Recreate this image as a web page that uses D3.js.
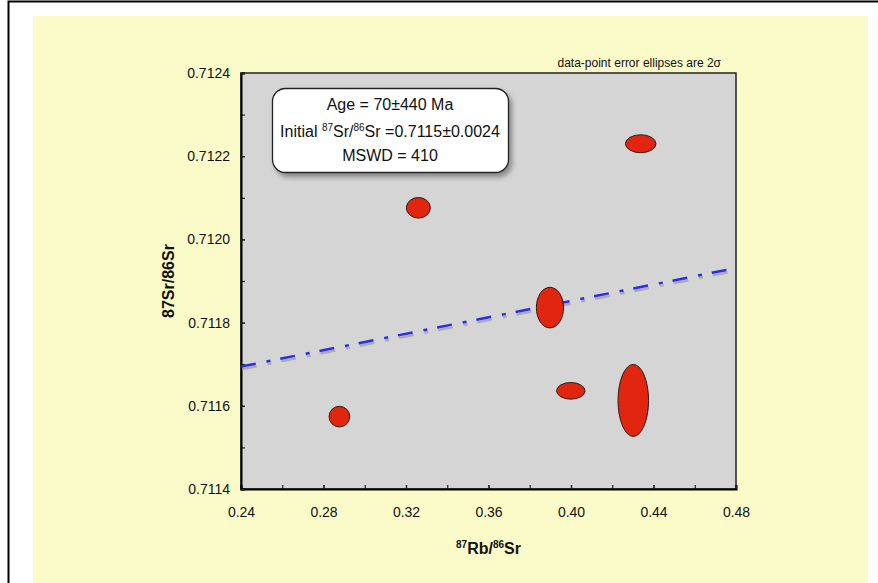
<!DOCTYPE html>
<html>
<head>
<meta charset="utf-8">
<title>Rb-Sr isochron</title>
<script src="https://d3js.org/d3.v7.min.js"></script>
<style>
  body { margin: 0; background: #fff; }
  text { font-family: "Liberation Sans", Arial, Helvetica, sans-serif; fill: #111; }
  .axis-title { font-size: 16px; font-weight: bold; }
  .box-text { font-size: 16px; }
  .note { font-size: 12px; }
</style>
</head>
<body>
<script>
  // measured points (87Rb/86Sr, 87Sr/86Sr) and 2-sigma errors
  const rbSr  = [0.2877, 0.3260, 0.3898, 0.3999, 0.4302, 0.4338];
  const srSr  = [0.711574, 0.712076, 0.711836, 0.711636, 0.711613, 0.712230];
  const errRb = [0.0050, 0.0058, 0.0066, 0.0069, 0.0074, 0.0074];
  const errSr = [0.0000248, 0.0000248, 0.0000488, 0.0000200, 0.0000865, 0.0000216];

  // regression (isochron) line
  const intercept = 0.711457;
  const slope = 0.000988;

  const xTicks = [0.24, 0.28, 0.32, 0.36, 0.40, 0.44, 0.48];
  const yTicks = [0.7114, 0.7116, 0.7118, 0.7120, 0.7122, 0.7124];

  const width = 878, height = 583;
  const plot = {left: 241, right: 736, top: 73, bottom: 489};

  let svg = d3.select('body').append('svg').attr('width', width).attr('height', height);

  let defs = svg.append('defs');
  defs.append('filter').attr('id', 'boxShadow').attr('x', '-10%').attr('y', '-10%').attr('width', '130%').attr('height', '140%')
      .append('feDropShadow').attr('dx', 3).attr('dy', 4).attr('stdDeviation', 2.5)
      .attr('flood-color', '#555').attr('flood-opacity', 0.6);
  defs.append('clipPath').attr('id', 'plotClip').append('rect')
      .attr('x', plot.left).attr('y', plot.top)
      .attr('width', plot.right - plot.left).attr('height', plot.bottom - plot.top);

  // page frame and yellow background
  svg.append('rect').attr('x', 8.5).attr('y', 1.5).attr('width', 900).attr('height', 700)
     .attr('fill', 'none').attr('stroke', '#000').attr('stroke-width', 2);
  svg.append('rect').attr('x', 33).attr('y', 16).attr('width', 835).attr('height', 600).attr('fill', '#fbfbc9');

  let x = d3.scaleLinear().domain([0.24, 0.48]).range([plot.left, plot.right]);
  let y = d3.scaleLinear().domain([0.7114, 0.7124]).range([plot.bottom, plot.top]);

  // plot area
  svg.append('rect').attr('x', plot.left).attr('y', plot.top)
     .attr('width', plot.right - plot.left).attr('height', plot.bottom - plot.top)
     .attr('fill', '#d5d5d5').attr('stroke', '#222').attr('stroke-width', 1.5);

  // axes: minor ticks (no labels) then labelled majors, all pointing inward
  svg.append('g').attr('transform', `translate(0,${plot.bottom})`)
     .call(d3.axisBottom(x).ticks(12).tickSize(-4).tickFormat(''))
     .call(g => g.select('.domain').remove());
  svg.append('g').attr('class', 'xaxis').attr('transform', `translate(0,${plot.bottom})`)
     .call(d3.axisBottom(x).tickValues(xTicks).tickSize(-4).tickPadding(18).tickFormat(d3.format('.2f')))
     .call(g => g.select('.domain').attr('stroke-width', 2));
  svg.append('g').attr('transform', `translate(${plot.left},0)`)
     .call(d3.axisLeft(y).ticks(10).tickSize(-4).tickFormat(''))
     .call(g => g.select('.domain').remove());
  svg.append('g').attr('class', 'yaxis').attr('transform', `translate(${plot.left},0)`)
     .call(d3.axisLeft(y).tickValues(yTicks).tickSize(-4).tickPadding(11).tickFormat(d3.format('.4f')))
     .call(g => g.select('.domain').attr('stroke-width', 2));
  svg.selectAll('.tick line').attr('stroke', '#222').attr('stroke-width', 1.2);
  svg.selectAll('.tick text').attr('fill', '#111')
     .style('font-size', '14px').style('font-family', '"Liberation Sans", Arial, sans-serif');

  // isochron line with soft shadow
  let chart = svg.append('g').attr('clip-path', 'url(#plotClip)');
  let lineX = x.domain();
  let line = d3.line().x(d => x(d)).y(d => y(intercept + slope * d));
  chart.append('path').datum(lineX).attr('d', line).attr('transform', 'translate(1,2.5)')
       .attr('fill', 'none').attr('stroke', '#9a9a9a').attr('stroke-width', 2.5).attr('opacity', 0.7)
       .attr('stroke-dasharray', '15,11,4,10');
  chart.append('path').datum(lineX).attr('d', line)
       .attr('fill', 'none').attr('stroke', '#2c2ce6').attr('stroke-width', 2.5)
       .attr('stroke-dasharray', '15,11,4,10');

  // error ellipses
  let pts = rbSr.map((v, i) => ({x: v, y: srSr[i], ex: errRb[i], ey: errSr[i]}));
  chart.selectAll('ellipse').data(pts).enter().append('ellipse')
       .attr('cx', d => x(d.x)).attr('cy', d => y(d.y))
       .attr('rx', d => x(d.x + d.ex) - x(d.x))
       .attr('ry', d => y(d.y) - y(d.y + d.ey))
       .attr('fill', '#e2250f').attr('stroke', '#2a1a14').attr('stroke-width', 1);

  // result box
  let box = svg.append('g');
  box.append('rect').attr('x', 272.5).attr('y', 88.5).attr('width', 236).attr('height', 84)
     .attr('rx', 13).attr('fill', '#fff').attr('stroke', '#222').attr('stroke-width', 1.3)
     .attr('filter', 'url(#boxShadow)');
  let cx = 390;
  box.append('text').attr('class', 'box-text').attr('x', cx).attr('y', 109.5).attr('text-anchor', 'middle')
     .text('Age = 70±440 Ma');
  let t2 = box.append('text').attr('class', 'box-text').attr('x', cx).attr('y', 137).attr('text-anchor', 'middle');
  t2.append('tspan').text('Initial ');
  t2.append('tspan').attr('dy', -6).style('font-size', '10px').text('87');
  t2.append('tspan').attr('dy', 6).text('Sr/');
  t2.append('tspan').attr('dy', -6).style('font-size', '10px').text('86');
  t2.append('tspan').attr('dy', 6).text('Sr =0.7115±0.0024');
  box.append('text').attr('class', 'box-text').attr('x', cx).attr('y', 161).attr('text-anchor', 'middle')
     .text('MSWD = 410');

  // note
  svg.append('text').attr('class', 'note').attr('x', 721).attr('y', 67).attr('text-anchor', 'end')
     .text('data-point error ellipses are 2σ');

  // axis titles
  let xt = svg.append('text').attr('class', 'axis-title').attr('x', (plot.left + plot.right) / 2).attr('y', 554)
     .attr('text-anchor', 'middle');
  xt.append('tspan').attr('dy', -6).style('font-size', '10px').text('87');
  xt.append('tspan').attr('dy', 6).text('Rb/');
  xt.append('tspan').attr('dy', -6).style('font-size', '10px').text('86');
  xt.append('tspan').attr('dy', 6).text('Sr');

  svg.append('text').attr('class', 'axis-title')
     .attr('transform', `translate(174,${(plot.top + plot.bottom) / 2}) rotate(-90)`)
     .attr('text-anchor', 'middle').text('87Sr/86Sr');
</script>
</body>
</html>
